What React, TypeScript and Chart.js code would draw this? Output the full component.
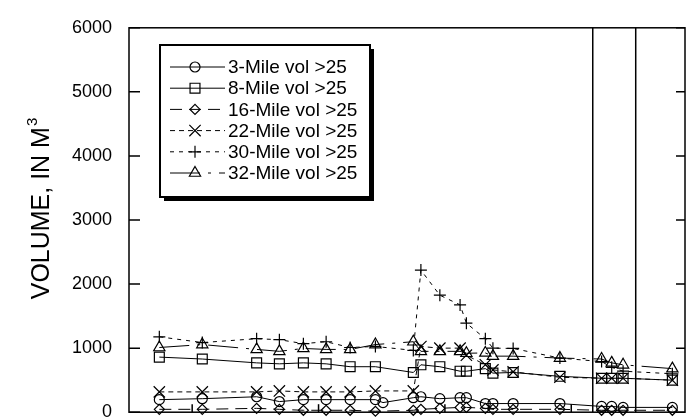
import React, { useEffect, useRef } from 'react';
import { Chart, registerables } from 'chart.js';
import { drawPoint } from 'chart.js/helpers';

Chart.register(...registerables);

// x positions of surveys (axis units: one unit per bottom tick interval)
const surveyX = [0.74, 1.08, 1.51, 1.69, 1.88, 2.06, 2.25, 2.45, 2.75, 2.81, 2.96, 3.12, 3.17, 3.32, 3.38, 3.54, 3.91, 4.24, 4.32, 4.41, 4.8];
const mile3X = [0.74, 1.08, 1.51, 1.69, 1.88, 2.06, 2.25, 2.45, 2.51, 2.75, 2.81, 2.96, 3.12, 3.17, 3.32, 3.38, 3.54, 3.91, 4.24, 4.32, 4.41, 4.8];

const mile3 = [196, 211, 241, 166, 196, 196, 196, 196, 150, 226, 241, 211, 226, 226, 135, 135, 135, 135, 90, 90, 75, 75];
const mile8 = [860, 830, 770, 755, 770, 755, 710, 710, 620, 740, 710, 640, 640, 680, 610, 620, 560, 530, 530, 530, 500];
const mile16 = [45, 45, 60, 45, 30, 30, 30, 15, 30, 45, 60, 75, 75, 60, 45, 45, 45, 30, 30, 30, 30];
const mile22 = [317, 317, 317, 332, 317, 317, 317, 332, 332, 1026, 1000, 1000, 890, 740, 660, 630, 545, 530, 530, 530, 500];
const mile30 = [1177, 1087, 1147, 1132, 1070, 1100, 1010, 1026, 965, 2218, 1826, 1675, 1390, 1147, 1000, 995, 845, 790, 700, 640, 600];
const mile32 = [1010, 1056, 980, 950, 995, 980, 980, 1056, 1100, 950, 950, 950, 920, 925, 875, 875, 845, 830, 770, 740, 680];

const seriesLabels = ['3-Mile vol >25', '8-Mile vol >25', '16-Mile vol >25', '22-Mile vol >25', '30-Mile vol >25', '32-Mile vol >25'];

const yTickValues = [0, 1000, 2000, 3000, 4000, 5000, 6000];
const xTickValues = [1, 2, 3, 4];
const eventLines = [4.17, 4.51];

const FONT = 'Arial, "Liberation Sans", sans-serif';

function makeSet(label: string, xs: number[], ys: number[], style: string, radius: number, dash: number[]) {
  return {
    label,
    data: xs.map((x, i) => ({ x, y: ys[i] })),
    borderColor: '#000',
    borderWidth: 1,
    borderDash: dash,
    pointStyle: style,
    pointRadius: radius,
    pointBorderWidth: 1.2,
    pointBackgroundColor: 'rgba(0,0,0,0)',
    pointBorderColor: '#000',
    backgroundColor: 'rgba(0,0,0,0)',
    fill: false,
    tension: 0,
    clip: false as any,
  };
}

const framePlugin = {
  id: 'frame',
  afterDatasetsDraw(chart: any) {
    const { ctx, chartArea, scales } = chart;
    const { left, right, top, bottom } = chartArea;
    ctx.save();
    ctx.strokeStyle = '#000';
    ctx.setLineDash([]);
    ctx.lineWidth = 1.5;
    ctx.strokeRect(left, top, right - left, bottom - top);
    yTickValues.forEach((v) => {
      const py = scales.y.getPixelForValue(v);
      ctx.beginPath();
      ctx.moveTo(left, py);
      ctx.lineTo(left + 11, py);
      ctx.moveTo(right - 9, py);
      ctx.lineTo(right, py);
      ctx.stroke();
    });
    xTickValues.forEach((v) => {
      const px = scales.x.getPixelForValue(v);
      ctx.beginPath();
      ctx.moveTo(px, bottom);
      ctx.lineTo(px, bottom - 8);
      ctx.stroke();
    });
    eventLines.forEach((v) => {
      const px = scales.x.getPixelForValue(v);
      ctx.beginPath();
      ctx.moveTo(px, top);
      ctx.lineTo(px, bottom);
      ctx.stroke();
    });
    ctx.restore();
  },
};

const legendPlugin = {
  id: 'boxLegend',
  afterDraw(chart: any) {
    const ctx = chart.ctx;
    ctx.save();
    const bx = 160, by = 45, bw = 210, bh = 152;
    ctx.fillStyle = '#000';
    ctx.fillRect(bx + 4, by + 4, bw, bh);
    ctx.fillStyle = '#fff';
    ctx.fillRect(bx, by, bw, bh);
    ctx.lineWidth = 2;
    ctx.strokeStyle = '#000';
    ctx.strokeRect(bx, by, bw, bh);
    chart.data.datasets.forEach((ds: any, i: number) => {
      const y = 67 + i * 21.2;
      ctx.setLineDash(ds.borderDash || []);
      ctx.lineWidth = 1;
      ctx.beginPath();
      ctx.moveTo(170, y);
      ctx.lineTo(225, y);
      ctx.stroke();
      ctx.setLineDash([]);
      ctx.fillStyle = 'rgba(0,0,0,0)';
      ctx.lineWidth = 1.2;
      drawPoint(ctx, { pointStyle: ds.pointStyle, radius: ds.pointRadius, borderWidth: 1.2, rotation: 0 } as any, 195, y);
      ctx.fillStyle = '#000';
      ctx.font = `19px ${FONT}`;
      ctx.textBaseline = 'middle';
      ctx.textAlign = 'left';
      ctx.fillText(ds.label, 228, y + 1);
    });
    ctx.restore();
  },
};

const titlePlugin = {
  id: 'yTitle',
  afterDraw(chart: any) {
    const ctx = chart.ctx;
    ctx.save();
    ctx.translate(49, 209);
    ctx.rotate(-Math.PI / 2);
    ctx.fillStyle = '#000';
    ctx.textBaseline = 'alphabetic';
    ctx.textAlign = 'left';
    const main = 'VOLUME, IN M';
    const sup = '3';
    ctx.font = `25px ${FONT}`;
    const w1 = ctx.measureText(main).width;
    ctx.font = `15px ${FONT}`;
    const w2 = ctx.measureText(sup).width;
    const start = -(w1 + w2) / 2;
    ctx.font = `25px ${FONT}`;
    ctx.fillText(main, start, 0);
    ctx.font = `15px ${FONT}`;
    ctx.fillText(sup, start + w1 + 1, -12);
    ctx.restore();
  },
};

export default function App() {
  const ref = useRef<HTMLCanvasElement>(null);
  useEffect(() => {
    const chart = new Chart(ref.current as HTMLCanvasElement, {
      type: 'line',
      data: {
        datasets: [
          makeSet(seriesLabels[0], mile3X, mile3, 'circle', 5, []),
          makeSet(seriesLabels[1], surveyX, mile8, 'rect', 7, []),
          makeSet(seriesLabels[2], surveyX, mile16, 'rectRot', 5, [12, 7]),
          makeSet(seriesLabels[3], surveyX, mile22, 'crossRot', 8, [5, 4]),
          makeSet(seriesLabels[4], surveyX, mile30, 'cross', 6, [4, 5]),
          makeSet(seriesLabels[5], surveyX, mile32, 'triangle', 6.5, [30, 8, 3, 8]),
        ] as any,
      },
      options: {
        animation: false,
        responsive: false,
        devicePixelRatio: 1,
        layout: { padding: { left: 0, right: 10, top: 15.5, bottom: 27 } },
        plugins: { legend: { display: false }, tooltip: { enabled: false } },
        scales: {
          x: { type: 'linear', display: false, min: 0.5, max: 4.9 },
          y: {
            type: 'linear',
            min: 0,
            max: 6000,
            grid: { display: false, drawTicks: false },
            border: { display: false },
            ticks: {
              stepSize: 1000,
              font: { family: FONT, size: 18 },
              color: '#000',
              padding: 17,
              callback: (v: any) => String(v),
            },
            afterFit: (s: any) => {
              s.width = 129;
            },
          },
        },
      } as any,
      plugins: [framePlugin, legendPlugin, titlePlugin],
    });
    return () => chart.destroy();
  }, []);
  return (
    <div style={{ position: 'absolute', left: 0, top: 0, width: 695, height: 417, overflow: 'hidden', background: '#fff' }}>
      <canvas ref={ref} width={695} height={440} style={{ display: 'block', width: 695, height: 440 }} />
    </div>
  );
}
